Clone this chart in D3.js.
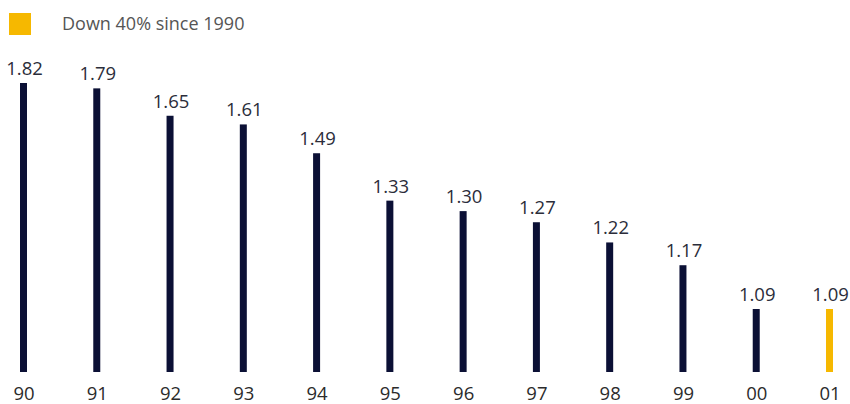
<!DOCTYPE html>
<html>
<head>
<meta charset="utf-8">
<script src="https://cdn.jsdelivr.net/npm/d3@7/dist/d3.min.js"></script>
<style>
  html, body { margin: 0; padding: 0; background: #ffffff; }
  svg { display: block; }
  text { font-family: "Open Sans", "Noto Sans", sans-serif; }
</style>
</head>
<body>
<svg id="chart" width="850" height="404"></svg>
<script>
// ---- data ----
const categories = ["90","91","92","93","94","95","96","97","98","99","00","01"];
const values = [1.82, 1.79, 1.65, 1.61, 1.49, 1.33, 1.30, 1.27, 1.22, 1.17, 1.09, 1.09];
const valueLabels = ["1.82","1.79","1.65","1.61","1.49","1.33","1.30","1.27","1.22","1.17","1.09","1.09"];
const highlight = ["01"];
const legendLabel = "Down 40% since 1990";

// ---- layout ----
const svg = d3.select("#chart");
const baseline = 372;
const offset = 0.8; // reference chart's vertical scale is compressed (log-like)

const x = d3.scalePoint().domain(categories).range([23.5, 829.5]);
const y = d3.scaleLog()
  .domain([d3.min(values) - offset, d3.max(values) - offset])
  .range([309, 83]);

const navy = "#0b1035";
const gold = "#f6b800";
const barW = 7;

const data = categories.map((c, i) => ({ c, v: values[i], label: valueLabels[i] }));

// bars
svg.append("g").selectAll("rect")
  .data(data)
  .join("rect")
  .attr("x", d => x(d.c) - barW / 2)
  .attr("y", d => y(d.v - offset))
  .attr("width", barW)
  .attr("height", d => baseline - y(d.v - offset))
  .attr("fill", d => highlight.includes(d.c) ? gold : navy);

// value labels
svg.append("g").selectAll("text")
  .data(data)
  .join("text")
  .attr("x", d => x(d.c) + 1)
  .attr("y", d => y(d.v - offset) - 8)
  .attr("text-anchor", "middle")
  .attr("font-size", 18.5)
  .attr("fill", "#2b2d3a")
  .text(d => d.label);

// category axis labels
const xAxis = d3.axisBottom(x).tickSize(0).tickPadding(0);
const gx = svg.append("g")
  .attr("transform", `translate(0, ${baseline})`)
  .call(xAxis);
gx.select(".domain").remove();
gx.selectAll("text")
  .attr("font-size", 18.5)
  .attr("font-family", "'Open Sans', 'Noto Sans', sans-serif")
  .attr("fill", "#2b2b2b")
  .attr("dy", null)
  .attr("y", 28);

// legend
const lg = svg.append("g");
lg.append("rect")
  .attr("x", 9).attr("y", 13)
  .attr("width", 22).attr("height", 22)
  .attr("fill", gold);
lg.append("text")
  .attr("x", 62).attr("y", 30)
  .attr("font-size", 18)
  .attr("fill", "#555555")
  .text(legendLabel);
</script>
</body>
</html>
